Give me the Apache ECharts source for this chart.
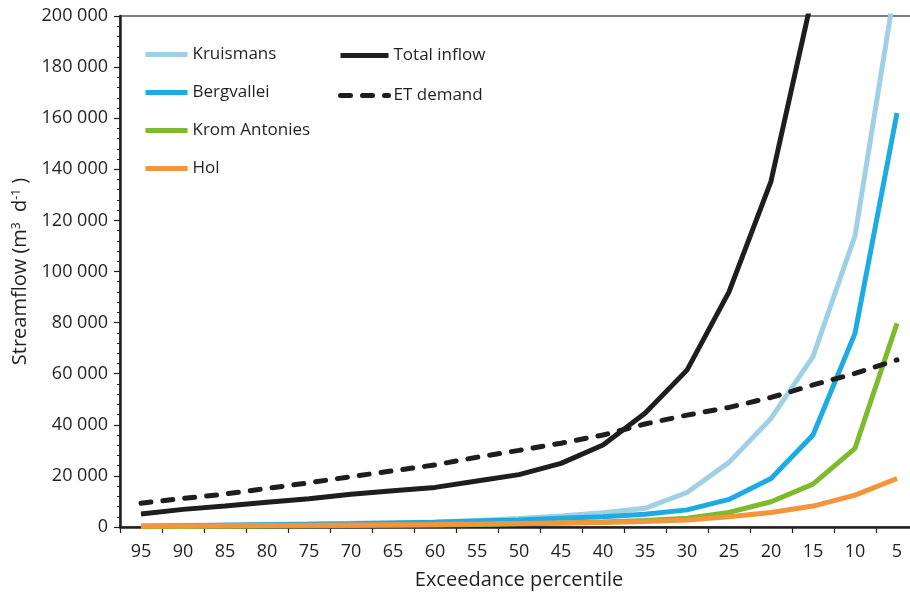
<!DOCTYPE html>
<html>
<head>
<meta charset="utf-8">
<script src="https://cdn.jsdelivr.net/npm/echarts@6/dist/echarts.min.js"></script>
<style>
html,body{margin:0;padding:0;background:#fff;}
#chart{width:910px;height:599px;}
</style>
</head>
<body>
<div id="chart"></div>
<script>
var categories = ['95','90','85','80','75','70','65','60','55','50','45','40','35','30','25','20','15','10','5'];
var kruismans = [400, 600, 800, 1000, 1200, 1500, 1700, 2000, 2500, 3300, 4300, 5600, 7300, 13500, 25300, 42500, 66700, 114000, 216000];
var bergvallei = [300, 500, 700, 900, 1100, 1300, 1600, 1900, 2300, 2700, 3400, 4000, 5000, 6700, 10800, 19000, 36000, 75800, 162000];
var kromAntonies = [100, 200, 300, 400, 500, 600, 700, 800, 1000, 1300, 1600, 2000, 2500, 3400, 5700, 9900, 16800, 30800, 79700];
var hol = [300, 400, 500, 600, 700, 800, 900, 1000, 1200, 1400, 1600, 1800, 2200, 2700, 4000, 5700, 8200, 12500, 19000];
var totalInflow = [5100, 6900, 8200, 9700, 11100, 12800, 14200, 15500, 18000, 20500, 24900, 32100, 44500, 61400, 92000, 135300, 209000, 330000, 620000];
var etDemand = [9300, 11200, 12900, 15100, 17300, 19700, 22000, 24300, 27300, 30000, 32800, 36000, 40300, 43800, 46800, 50700, 55600, 60100, 65400];

var FONT = '"Open Sans", sans-serif';
var TXT = '#231f20';
var DASH = [10, 12];

function lineSeries(name, data, color, extra) {
  var s = {
    name: name,
    type: 'line',
    data: data,
    symbol: 'none',
    clip: true,
    lineStyle: { color: color, width: 5 },
    itemStyle: { color: color },
    emphasis: { disabled: true }
  };
  if (extra) { for (var k in extra) s.lineStyle[k] = extra[k]; }
  return s;
}

var chart = echarts.init(document.getElementById('chart'), null, { renderer: 'canvas' });
chart.setOption({
  animation: false,
  backgroundColor: '#ffffff',
  grid: {
    left: 120, top: 16, bottom: 72, right: -8,
    outerBoundsMode: 'none',
    containLabel: false,
    show: true, borderColor: '#555', borderWidth: 1.5, backgroundColor: 'transparent'
  },
  legend: [
    {
      data: [
        { name: 'Kruismans', lineStyle: { width: 5 } },
        { name: 'Bergvallei', lineStyle: { width: 5 } },
        { name: 'Krom Antonies', lineStyle: { width: 5 } },
        { name: 'Hol', lineStyle: { width: 5 } }
      ],
      orient: 'vertical',
      left: 143, top: 46,
      itemWidth: 42, itemHeight: 20, itemGap: 21,
      itemStyle: { opacity: 0 },
      textStyle: { fontFamily: FONT, fontSize: 17, color: TXT },
      padding: 0
    },
    {
      data: [
        { name: 'Total inflow', lineStyle: { width: 5 } },
        { name: 'ET demand', lineStyle: { width: 5, type: DASH, cap: 'round' } }
      ],
      orient: 'vertical',
      left: 338, top: 47,
      itemWidth: 48, itemHeight: 20, itemGap: 23,
      itemTextGap: 4,
      itemStyle: { opacity: 0 },
      textStyle: { fontFamily: FONT, fontSize: 17, color: TXT },
      padding: 0
    }
  ],
  xAxis: {
    type: 'category',
    data: categories,
    boundaryGap: true,
    name: 'Exceedance percentile',
    nameLocation: 'middle',
    nameGap: 43,
    nameTextStyle: { fontFamily: FONT, fontSize: 20, color: TXT },
    axisLine: { lineStyle: { color: '#231f20', width: 2.5 } },
    axisTick: { show: true, length: 6, lineStyle: { color: '#231f20', width: 1.2 } },
    axisLabel: { fontFamily: FONT, fontSize: 18, color: TXT, margin: 16 },
    splitLine: { show: false }
  },
  yAxis: {
    type: 'value',
    min: 0, max: 200000, interval: 20000,
    name: 'Streamflow (m{sup|3}  d{sup|-1} )',
    nameLocation: 'middle',
    nameRotate: 90,
    nameGap: 88,
    nameTextStyle: {
      fontFamily: FONT, fontSize: 20, color: TXT,
      rich: { sup: { fontFamily: FONT, fontSize: 12, color: TXT, verticalAlign: 'top', padding: [0, 0, 9, 0] } }
    },
    axisLine: { show: true, lineStyle: { color: '#231f20', width: 2.5 } },
    axisTick: { show: true, length: 6, lineStyle: { color: '#231f20', width: 1.2 } },
    minorTick: { show: true, splitNumber: 5, length: 3, lineStyle: { color: '#231f20', width: 1 } },
    axisLabel: {
      fontFamily: FONT, fontSize: 18, color: TXT, margin: 12,
      formatter: function (v) { return String(v).replace(/\B(?=(\d{3})+(?!\d))/g, ' '); }
    },
    splitLine: { show: false }
  },
  series: [
    lineSeries('Kruismans', kruismans, '#9fd0e5'),
    lineSeries('Bergvallei', bergvallei, '#1eaae3'),
    lineSeries('Krom Antonies', kromAntonies, '#7dbb2c'),
    lineSeries('Hol', hol, '#f4943b'),
    lineSeries('Total inflow', totalInflow, '#1e1e1e'),
    lineSeries('ET demand', etDemand, '#1e1e1e', { type: DASH, cap: 'round' })
  ]
});
</script>
</body>
</html>
